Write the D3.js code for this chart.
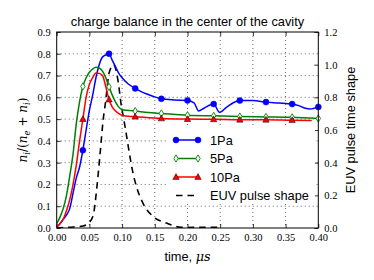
<!DOCTYPE html>
<html>
<head>
<meta charset="utf-8">
<script src="https://cdn.jsdelivr.net/npm/d3@7"></script>
<style>
  body { margin: 0; background: #fff; }
  svg { display: block; }
</style>
</head>
<body>
<div id="chart"></div>
<script>
// time axis (microseconds) and ion fraction for each pressure
var t1Pa = [0, 0.005, 0.01, 0.015, 0.02, 0.025, 0.03, 0.035, 0.04, 0.045, 0.05, 0.055, 0.06, 0.065, 0.07, 0.075, 0.08, 0.085, 0.09, 0.095, 0.10, 0.11, 0.12, 0.13, 0.14, 0.15, 0.16, 0.18, 0.20, 0.21, 0.217, 0.225, 0.24, 0.249, 0.26, 0.27, 0.28, 0.30, 0.32, 0.34, 0.36, 0.37, 0.38, 0.387, 0.40];
var v1Pa = [0.005, 0.02, 0.04, 0.06, 0.09, 0.16, 0.23, 0.28, 0.357, 0.45, 0.54, 0.61, 0.69, 0.75, 0.785, 0.795, 0.80, 0.77, 0.74, 0.71, 0.69, 0.66, 0.641, 0.625, 0.613, 0.602, 0.593, 0.588, 0.586, 0.575, 0.537, 0.55, 0.569, 0.531, 0.555, 0.575, 0.585, 0.585, 0.578, 0.574, 0.569, 0.562, 0.55, 0.546, 0.556];

var t5Pa = [0, 0.005, 0.01, 0.015, 0.02, 0.025, 0.03, 0.035, 0.04, 0.045, 0.05, 0.055, 0.06, 0.065, 0.07, 0.075, 0.08, 0.085, 0.09, 0.095, 0.10, 0.11, 0.12, 0.14, 0.16, 0.20, 0.24, 0.28, 0.32, 0.36, 0.40];
var v5Pa = [0.02, 0.05, 0.09, 0.15, 0.24, 0.34, 0.48, 0.58, 0.65, 0.69, 0.715, 0.73, 0.738, 0.735, 0.72, 0.69, 0.648, 0.61, 0.578, 0.555, 0.543, 0.54, 0.537, 0.53, 0.526, 0.518, 0.515, 0.512, 0.51, 0.508, 0.503];

var t10Pa = [0, 0.005, 0.01, 0.015, 0.02, 0.025, 0.03, 0.035, 0.04, 0.045, 0.05, 0.055, 0.06, 0.065, 0.07, 0.075, 0.08, 0.085, 0.09, 0.095, 0.10, 0.11, 0.12, 0.16, 0.20, 0.24, 0.28, 0.32, 0.36, 0.39];
var v10Pa = [0.005, 0.02, 0.04, 0.08, 0.13, 0.2, 0.29, 0.4, 0.5, 0.6, 0.66, 0.69, 0.712, 0.71, 0.7, 0.65, 0.59, 0.555, 0.537, 0.525, 0.518, 0.513, 0.511, 0.503, 0.5, 0.499, 0.497, 0.497, 0.495, 0.494];

// EUV pulse shape (right axis)
var tEuv = [0, 0.02, 0.04, 0.05, 0.056, 0.061, 0.066, 0.071, 0.075, 0.08, 0.087, 0.094, 0.099, 0.102, 0.107, 0.112, 0.117, 0.122, 0.132, 0.148, 0.168, 0.19, 0.20, 0.22, 0.25];
var vEuv = [0, 0.005, 0.012, 0.035, 0.08, 0.233, 0.44, 0.66, 0.78, 0.947, 1.0, 0.896, 0.743, 0.68, 0.56, 0.437, 0.33, 0.253, 0.151, 0.069, 0.03, 0.004, 0.003, 0.005, 0.005];

var xTicks = [0, 0.05, 0.10, 0.15, 0.20, 0.25, 0.30, 0.35, 0.40];
var yTicks = [0, 0.1, 0.2, 0.3, 0.4, 0.5, 0.6, 0.7, 0.8, 0.9];
var y2Ticks = [0, 0.2, 0.4, 0.6, 0.8, 1.0, 1.2];

var seriesNames = ["1Pa", "5Pa", "10Pa", "EUV pulse shape"];
var colors = ["#0000ff", "#008000", "#ff0000", "#000000"];

var width = 374, height = 280;
var pL = 56.7, pR = 318.3, pT = 32, pB = 228;

var svg = d3.select("#chart").append("svg")
  .attr("width", width)
  .attr("height", height);

var x = d3.scaleLinear().domain([0, 0.4]).range([pL, pR]);
var y = d3.scaleLinear().domain([0, 0.9]).range([pB, pT]);
var y2 = d3.scaleLinear().domain([0, 1.2]).range([pB, pT]);

var tickFont = "'Liberation Serif', serif";
var sans = "'Liberation Sans', Arial, sans-serif";

// grid
var grid = svg.append("g").attr("stroke", "#000").attr("stroke-width", 0.6).attr("stroke-dasharray", "1,3");
xTicks.slice(1, -1).forEach(function(d) {
  grid.append("line").attr("x1", x(d)).attr("x2", x(d)).attr("y1", pT).attr("y2", pB);
});
yTicks.slice(1, -1).forEach(function(d) {
  grid.append("line").attr("x1", pL).attr("x2", pR).attr("y1", y(d)).attr("y2", y(d));
});

function styleAxis(g) {
  g.select(".domain").remove();
  g.selectAll("line").attr("stroke", "#000").attr("stroke-width", 0.8);
  g.selectAll("text").attr("font-family", tickFont).attr("font-size", "10.5px").attr("fill", "#000");
}

svg.append("g").attr("transform", "translate(0," + pB + ")")
  .call(d3.axisBottom(x).tickValues(xTicks).tickFormat(d3.format(".2f")).tickSize(-4).tickPadding(6))
  .call(styleAxis);
svg.append("g").attr("transform", "translate(0," + pT + ")")
  .call(d3.axisTop(x).tickValues(xTicks).tickFormat("").tickSize(-4))
  .call(styleAxis);
svg.append("g").attr("transform", "translate(" + pL + ",0)")
  .call(d3.axisLeft(y).tickValues(yTicks).tickFormat(d3.format(".1f")).tickSize(-4).tickPadding(6))
  .call(styleAxis);
svg.append("g").attr("transform", "translate(" + pR + ",0)")
  .call(d3.axisRight(y2).tickValues(y2Ticks).tickFormat(d3.format(".1f")).tickSize(-4).tickPadding(6))
  .call(styleAxis);

svg.append("clipPath").attr("id", "clip").append("rect")
  .attr("x", pL).attr("y", pT).attr("width", pR - pL).attr("height", pB - pT);

var plot = svg.append("g").attr("clip-path", "url(#clip)");

function pts(ts, vs) {
  return ts.map(function(t, i) { return {t: t, v: vs[i]}; });
}

var lineL = d3.line().x(function(d) { return x(d.t); }).y(function(d) { return y(d.v); }).curve(d3.curveMonotoneX);
var lineR = d3.line().x(function(d) { return x(d.t); }).y(function(d) { return y2(d.v); }).curve(d3.curveMonotoneX);

var series = [pts(t1Pa, v1Pa), pts(t5Pa, v5Pa), pts(t10Pa, v10Pa)];

plot.append("path").datum(pts(tEuv, vEuv))
  .attr("d", lineR).attr("fill", "none").attr("stroke", "#000")
  .attr("stroke-width", 1.6).attr("stroke-dasharray", "6.5,5");

series.forEach(function(s, i) {
  plot.append("path").datum(s).attr("d", lineL)
    .attr("fill", "none").attr("stroke", colors[i]).attr("stroke-width", 1.5);
});

function marker(g, kind, cx, cy) {
  if (kind === 0) {
    g.append("circle").attr("cx", cx).attr("cy", cy).attr("r", 3)
      .attr("fill", colors[0]).attr("stroke", colors[0]).attr("stroke-width", 0.5);
  } else if (kind === 1) {
    g.append("path").attr("d", "M" + cx + "," + (cy - 3.6) + "L" + (cx + 2.2) + "," + cy + "L" + cx + "," + (cy + 3.6) + "L" + (cx - 2.2) + "," + cy + "Z")
      .attr("fill", "#fff").attr("stroke", colors[1]).attr("stroke-width", 0.9);
  } else {
    g.append("path").attr("d", "M" + cx + "," + (cy - 3.4) + "L" + (cx + 3.2) + "," + (cy + 2.4) + "L" + (cx - 3.2) + "," + (cy + 2.4) + "Z")
      .attr("fill", colors[2]).attr("stroke", "#000").attr("stroke-width", 0.5);
  }
}

var mk = svg.append("g");
series.forEach(function(s, i) {
  s.forEach(function(d) {
    var k = d.t / 0.04;
    if (d.t > 0 && Math.abs(k - Math.round(k)) < 1e-6) marker(mk, i, x(d.t), y(d.v));
  });
});

// frame
svg.append("rect").attr("x", pL).attr("y", pT).attr("width", pR - pL).attr("height", pB - pT)
  .attr("fill", "none").attr("stroke", "#000").attr("stroke-width", 1);

// legend
var lg = svg.append("g");
lg.append("rect").attr("x", 168).attr("y", 128).attr("width", 147).attr("height", 75).attr("fill", "#fff");
var rowY = [140, 158.5, 177, 195.5];
seriesNames.forEach(function(name, i) {
  var yy = rowY[i];
  var l = lg.append("line").attr("x1", 176).attr("x2", 198).attr("y1", yy).attr("y2", yy)
    .attr("stroke", colors[i]).attr("stroke-width", 1.5);
  if (i === 3) l.attr("stroke-dasharray", "6.5,5");
  else { marker(lg, i, 176, yy); marker(lg, i, 198, yy); }
  lg.append("text").attr("x", 210).attr("y", yy + 4.5).attr("font-family", sans)
    .attr("font-size", "12.8px").text(name);
});

// title and labels
svg.append("text").attr("x", (pL + pR) / 2).attr("y", 26).attr("text-anchor", "middle")
  .attr("font-family", sans).attr("font-size", "12.8px").text("charge balance in the center of the cavity");

var xl = svg.append("text").attr("x", (pL + pR) / 2).attr("y", 261).attr("text-anchor", "middle")
  .attr("font-family", sans).attr("font-size", "12.8px");
xl.append("tspan").text("time, ");
xl.append("tspan").attr("font-family", "'DejaVu Serif', serif").attr("font-style", "italic").text("μs");

// y label: n_i/(n_e + n_i), subscripts lowered with dy
var yl = svg.append("text").attr("transform", "translate(27," + (pT + pB) / 2 + ") rotate(-90)")
  .attr("text-anchor", "middle").attr("font-family", "'DejaVu Serif', serif").attr("font-size", "12px");
var parts = [["n", "i", "/("], ["n", "e", " + "], ["n", "i", ")"]];
parts.forEach(function(p) {
  yl.append("tspan").attr("font-style", "italic").text(p[0]);
  yl.append("tspan").attr("font-style", "italic").attr("font-size", "8.5px").attr("dy", 3).text(p[1]);
  yl.append("tspan").attr("dy", -3).text(p[2]);
});

svg.append("text").attr("transform", "translate(355," + (pT + pB) / 2 + ") rotate(-90)")
  .attr("text-anchor", "middle").attr("font-family", sans).attr("font-size", "12.8px")
  .text("EUV pulse time shape");
</script>
</body>
</html>
